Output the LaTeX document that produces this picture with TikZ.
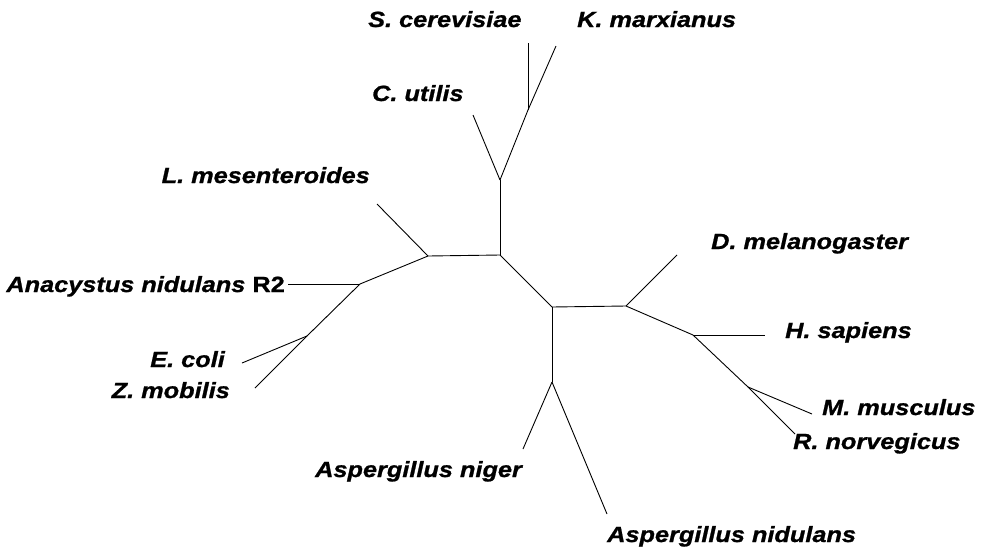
\documentclass[tikz,border=0pt]{standalone}
\usepackage{fontspec}
\newfontfamily\taxonfont[FakeStretch=1.15,
  BoldFeatures={FakeBold=1},
  BoldItalicFeatures={FakeBold=1}]{Liberation Sans}
\usetikzlibrary{positioning}
\tikzset{
  % Base styles
  tree base/.style={
    x=1pt, y=-1pt,
    every node/.style={font=\taxonfont\fontsize{22}{24}\selectfont\bfseries\itshape},
  },
  % Branches and labels
  branch/.style={line width=0.9pt, black},
  taxon left/.style={anchor=base west, inner sep=0pt},
  taxon right/.style={anchor=base east, inner sep=0pt},
}

\begin{document}
\begin{tikzpicture}[tree base]
\useasboundingbox (0,0) rectangle (985,555);

% Internal nodes
\coordinate (yeastA) at (528,110);
\coordinate (yeastB) at (500,180);
\coordinate (root) at (500,255);
\coordinate (bactA) at (428,256);
\coordinate (bactB) at (360,284);
\coordinate (bactC) at (307,336);
\coordinate (split) at (552,307);
\coordinate (asp) at (552,382);
\coordinate (anim) at (626,306);
\coordinate (mam) at (693,335);
\coordinate (rod) at (748,387);

% Leaf tips
\coordinate (sc) at (528,43);
\coordinate (km) at (556,46);
\coordinate (cu) at (473,115);
\coordinate (lm) at (377,204);
\coordinate (an) at (288,284);
\coordinate (ec) at (242,363);
\coordinate (zm) at (255,388);
\coordinate (ang) at (523,449);
\coordinate (and) at (607,514);
\coordinate (dm) at (677,255);
\coordinate (hs) at (765,335);
\coordinate (mm) at (812,414);
\coordinate (rn) at (795,434);

% Branches
\draw[branch] (yeastA) -- (sc);
\draw[branch] (yeastA) -- (km);
\draw[branch] (yeastB) -- (yeastA);
\draw[branch] (yeastB) -- (cu);
\draw[branch] (root) -- (yeastB);
\draw[branch] (root) -- (bactA);
\draw[branch] (bactA) -- (lm);
\draw[branch] (bactA) -- (bactB);
\draw[branch] (bactB) -- (an);
\draw[branch] (bactB) -- (bactC);
\draw[branch] (bactC) -- (ec);
\draw[branch] (bactC) -- (zm);
\draw[branch] (root) -- (split);
\draw[branch] (split) -- (asp);
\draw[branch] (asp) -- (ang);
\draw[branch] (asp) -- (and);
\draw[branch] (split) -- (anim);
\draw[branch] (anim) -- (dm);
\draw[branch] (anim) -- (mam);
\draw[branch] (mam) -- (hs);
\draw[branch] (mam) -- (rod);
\draw[branch] (rod) -- (mm);
\draw[branch] (rod) -- (rn);

% Taxon labels
\node[taxon left] (scL) at (368,27) {S. cerevisiae};
\node[taxon left] (kmL) at (577,27) {K. marxianus};
\node[taxon left] (cuL) at (372,101) {C. utilis};
\node[taxon right] (lmL) at (370,183) {L. mesenteroides};
\node[taxon right] (anL) at (285,292) {Anacystus nidulans {\upshape R2}};
\node[taxon right] (ecL) at (225,367) {E. coli};
\node[taxon right] (zmL) at (230,398) {Z. mobilis};
\node[taxon left] (angL) at (315,477) {Aspergillus niger};
\node[taxon left] (andL) at (607,542) {Aspergillus nidulans};
\node[taxon left] (dmL) at (711,249) {D. melanogaster};
\node[taxon left] (hsL) at (785,338) {H. sapiens};
\node[taxon left] (mmL) at (822,415) {M. musculus};
\node[taxon left] (rnL) at (793,449) {R. norvegicus};
\end{tikzpicture}
\end{document}
